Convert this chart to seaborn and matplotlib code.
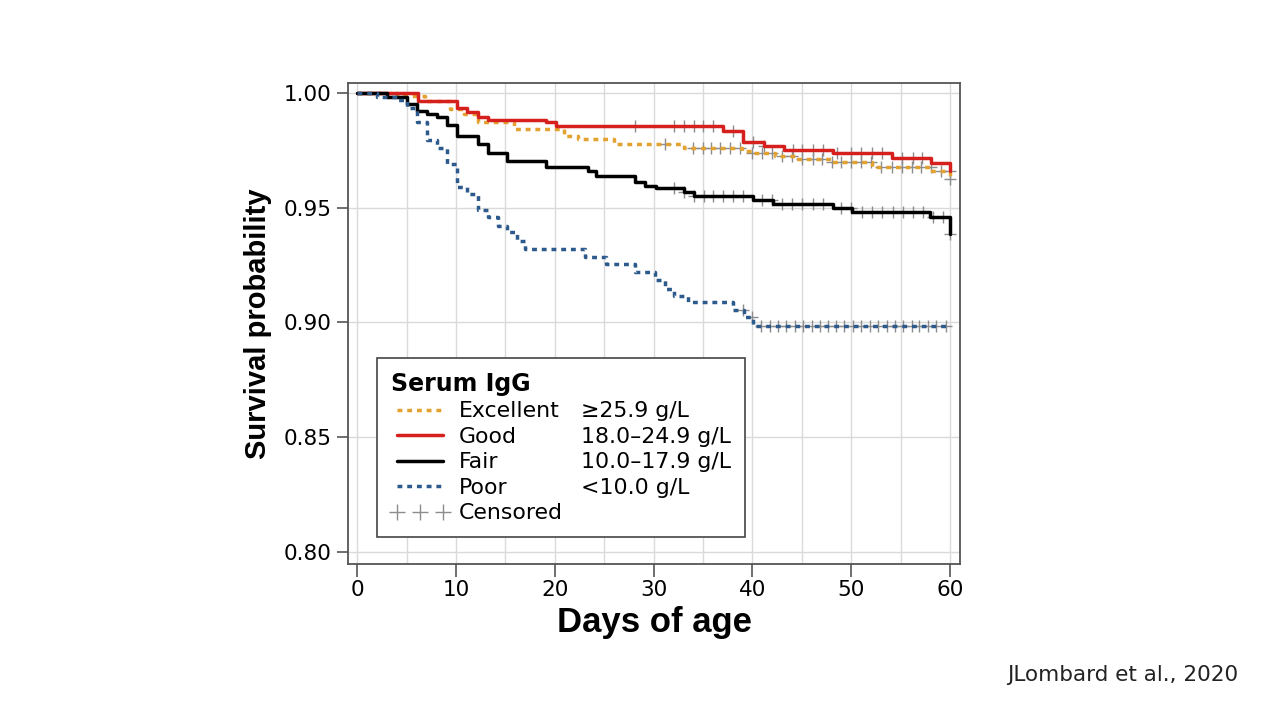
import numpy as np
import pandas as pd
import seaborn as sns
import matplotlib.pyplot as plt
from matplotlib.lines import Line2D
from matplotlib.ticker import FormatStrFormatter

# Kaplan-Meier steps (days, survival)
good_t = [0, 6.1, 10.1, 11.1, 12.2, 13.2, 19.1, 20.1, 37.0, 39.0, 41.2, 43.2, 48.1, 54.1, 58.1, 60.0]
good_s = [1.0, 0.9965, 0.9936, 0.9915, 0.9896, 0.9881, 0.9871, 0.9857, 0.9835, 0.9787, 0.9770,
          0.9752, 0.9738, 0.9716, 0.9693, 0.9660]
excellent_t = [0, 4.0, 6.9, 9.4, 10.8, 12.2, 15.9, 20.9, 22.3, 26.0, 33.1, 38.9, 39.9, 42.3,
               44.3, 48.0, 52.1, 58.2, 60.0]
excellent_s = [1.0, 0.9987, 0.9965, 0.9929, 0.9907, 0.9871, 0.9842, 0.9813, 0.9799, 0.9777,
               0.9762, 0.9748, 0.9740, 0.9726, 0.9712, 0.9697, 0.9675, 0.9658, 0.9625]
fair_t = [0, 3.0, 5.0, 6.0, 7.1, 8.1, 9.1, 10.1, 12.2, 13.2, 15.2, 19.1, 23.4, 24.2, 28.1, 29.1,
          30.2, 33.1, 34.1, 40.1, 42.1, 48.1, 50.1, 58.0, 60.0]
fair_s = [1.0, 0.9983, 0.9950, 0.9922, 0.9909, 0.9893, 0.9861, 0.9813, 0.9777, 0.9740, 0.9704,
          0.9675, 0.9658, 0.9639, 0.9610, 0.9596, 0.9586, 0.9567, 0.9550, 0.9535, 0.9516, 0.9499,
          0.9480, 0.9458, 0.9383]
poor_t = [0, 2.0, 4.0, 5.0, 6.0, 7.1, 8.1, 9.1, 10.1, 11.1, 12.2, 13.2, 14.2, 15.2, 16.2, 17.0,
          23.0, 25.2, 28.1, 30.1, 31.1, 32.1, 33.5, 38.0, 39.1, 40.1, 60.0]
poor_s = [1.0, 0.9983, 0.9968, 0.9936, 0.9871, 0.9794, 0.9762, 0.9690, 0.9591, 0.9560, 0.9490,
          0.9458, 0.9422, 0.9393, 0.9354, 0.9320, 0.9287, 0.9255, 0.9219, 0.9183, 0.9147, 0.9113,
          0.9088, 0.9052, 0.9023, 0.8983, 0.8983]

# censoring times
good_c = [28.1, 32.1, 33.1, 34.1, 35.0, 36.0, 38.0, 40.1, 41.2, 44.1, 45.0, 46.1, 47.1, 48.6,
          50.0, 51.0, 52.1, 53.1, 55.1, 56.2, 57.2, 60.0]
excellent_c = [31.1, 34.0, 35.0, 35.8, 36.7, 37.7, 38.7, 39.9, 41.0, 42.0, 43.0, 44.0, 45.0,
               46.1, 47.0, 48.0, 49.0, 50.0, 51.0, 52.0, 53.0, 54.1, 55.1, 56.1, 57.1, 58.1,
               59.1, 60.0]
fair_c = [32.1, 33.1, 34.1, 35.1, 36.0, 37.0, 38.0, 39.0, 41.0, 42.0, 43.0, 44.0, 45.0, 46.1,
          47.1, 49.0, 50.0, 51.1, 52.1, 53.1, 54.2, 55.2, 56.2, 57.3, 58.3, 59.3, 60.0]
poor_c = [39.0, 40.0, 40.9, 41.75, 42.6, 43.4, 44.3, 45.1, 46.0, 46.8, 47.65, 48.5, 49.3, 50.2,
          51.0, 51.9, 52.7, 53.6, 54.4, 55.2, 56.1, 56.9, 57.8, 58.6, 59.6]

groups = ["Excellent", "Good", "Fair", "Poor"]
ranges = ["\u226525.9 g/L", "18.0\u201324.9 g/L", "10.0\u201317.9 g/L", "<10.0 g/L"]
colors = ["#E3A12F", "#D6201E", "#000000", "#2C5A8C"]
dotted = (0, (1.4, 1.4))
styles = [dotted, "-", "-", dotted]
lw = 2.5

curves = {
    "Excellent": (excellent_t, excellent_s, excellent_c),
    "Good": (good_t, good_s, good_c),
    "Fair": (fair_t, fair_s, fair_c),
    "Poor": (poor_t, poor_s, poor_c),
}

sns.set_style("white")
plt.rcParams["font.family"] = ["DejaVu Sans"]
plt.rcParams["text.color"] = "black"
plt.rcParams["axes.labelcolor"] = "black"

fig = plt.figure(figsize=(12.8, 7.2), dpi=100)
ax = fig.add_axes([0.272, 0.217, 0.478, 0.668])

# censor marks
for g in groups:
    t, s, c = curves[g]
    idx = np.searchsorted(t, c, side="right") - 1
    cs = np.array(s)[idx]
    sns.scatterplot(x=c, y=cs, marker="+", s=80, color="#8c8c8c", linewidth=1.0,
                    ax=ax, zorder=2, legend=False)

for g in groups:
    i = groups.index(g)
    t, s, c = curves[g]
    df = pd.DataFrame({"day": t, "surv": s})
    sns.lineplot(data=df, x="day", y="surv", drawstyle="steps-post", color=colors[i],
                 linestyle=styles[i], linewidth=lw, estimator=None, errorbar=None,
                 ax=ax, zorder=3)

ax.set_xlim(-0.92, 61.0)
ax.set_ylim(0.7948, 1.0044)
ax.set_xticks(range(0, 61, 10))
ax.set_xticks(range(0, 61, 5), minor=True)
ax.set_yticks([0.80, 0.85, 0.90, 0.95, 1.00])
ax.yaxis.set_major_formatter(FormatStrFormatter("%.2f"))
ax.grid(True, which="both", color="#dadada", linewidth=1.0)
ax.set_axisbelow(True)
ax.tick_params(axis="both", which="major", labelsize=15.5, color="#555555", width=1.2,
               labelcolor="black")
ax.tick_params(axis="x", which="major", length=9, pad=3, bottom=True)
ax.tick_params(axis="y", which="major", length=8, pad=4, left=True)
ax.tick_params(which="minor", length=0)
for sp in ax.spines.values():
    sp.set_color("#555555")
    sp.set_linewidth(1.3)

ax.set_xlabel("Days of age", fontsize=25, fontweight="bold", family="Liberation Sans",
              labelpad=4)
ax.set_ylabel("Survival probability", fontsize=21, fontweight="bold", family="Liberation Sans",
              labelpad=8)

# legend: names in first column, ranges in second
handles = [Line2D([], [], color=colors[i], linestyle=styles[i], linewidth=lw)
           for i in range(len(groups))]
handles.append(Line2D([], [], color="#8c8c8c", linestyle="none", marker="+",
                      markersize=11, markeredgewidth=1.0))
labels = groups + ["Censored"]
blank = [Line2D([], [], linestyle="none") for _ in range(5)]
leg = ax.legend(handles + blank, labels + ranges + [""], ncol=2, loc="lower left",
                bbox_to_anchor=(0.047, 0.056), borderaxespad=0, fontsize=15.8,
                title="Serum IgG", title_fontproperties={"weight": "bold", "size": 17},
                alignment="left", handlelength=2.7, handletextpad=0.42, columnspacing=-2.3,
                labelspacing=0.25, numpoints=3, fancybox=False, framealpha=1,
                edgecolor="#444444", borderpad=0.62)
leg.get_frame().set_linewidth(1.2)

fig.text(0.967, 0.0625, "JLombard et al., 2020", ha="right", va="center", fontsize=15.5,
         color="#222222")

fig.savefig("out.png", dpi=100, facecolor="white")
